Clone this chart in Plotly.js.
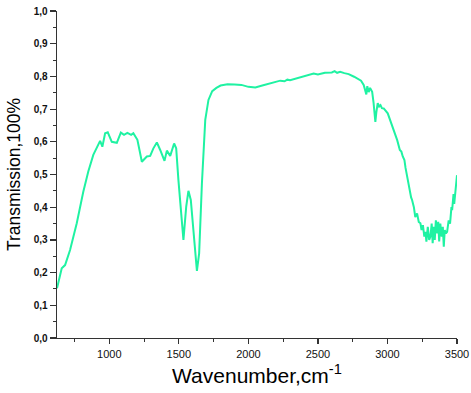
<!DOCTYPE html>
<html>
<head>
<meta charset="utf-8">
<script src="https://cdn.plot.ly/plotly-3.0.1.min.js"></script>
<style>html,body{margin:0;padding:0;background:#fff;}#chart{width:471px;height:393px;}</style>
</head>
<body>
<div id="chart"></div>
<script>
const wavenumber = [624,658,682,718,766,813,849,885,934,950,970,989,1018,1054,1083,1106,1130,1157,1173,1202,1217,1234,1270,1294,1317,1342,1366,1397,1414,1438,1466,1481,1497,1517,1533,1553,1569,1586,1605,1630,1646,1666,1690,1713,1740,1770,1800,1850,1900,1950,2000,2050,2100,2150,2200,2229,2260,2280,2300,2350,2400,2450,2469,2500,2550,2600,2620,2638,2660,2690,2721,2760,2793,2810,2829,2840,2848,2855,2865,2875,2890,2900,2908,2913,2920,2930,2940,2950,2960,2973,3002,3020,3045,3070,3089,3100,3110,3122,3130,3141,3150,3160,3170,3177,3190,3200,3213,3225,3237,3245,3255,3265,3273,3280,3290,3300,3309,3318,3325,3333,3340,3348,3358,3365,3372,3380,3390,3398,3405,3412,3420,3429,3440,3450,3460,3465,3475,3480,3489,3495,3500];
const transmission = [0.152,0.213,0.223,0.269,0.351,0.447,0.509,0.560,0.603,0.585,0.626,0.629,0.600,0.597,0.628,0.621,0.627,0.621,0.626,0.606,0.575,0.539,0.555,0.557,0.580,0.598,0.575,0.542,0.573,0.557,0.595,0.580,0.483,0.391,0.300,0.402,0.450,0.422,0.320,0.205,0.259,0.473,0.667,0.728,0.755,0.765,0.772,0.776,0.775,0.774,0.768,0.766,0.772,0.778,0.783,0.787,0.785,0.790,0.788,0.794,0.800,0.805,0.809,0.806,0.811,0.812,0.816,0.811,0.814,0.810,0.807,0.799,0.791,0.787,0.774,0.760,0.745,0.770,0.752,0.765,0.753,0.720,0.690,0.661,0.690,0.718,0.708,0.712,0.703,0.702,0.687,0.665,0.636,0.605,0.575,0.570,0.555,0.544,0.520,0.493,0.480,0.445,0.430,0.422,0.400,0.370,0.381,0.355,0.351,0.330,0.345,0.310,0.325,0.295,0.340,0.300,0.310,0.350,0.290,0.340,0.300,0.360,0.320,0.355,0.295,0.350,0.310,0.340,0.279,0.330,0.320,0.325,0.360,0.350,0.400,0.391,0.440,0.410,0.453,0.480,0.498];
const yTickVals = [0,0.1,0.2,0.3,0.4,0.5,0.6,0.7,0.8,0.9,1.0];
const yTickText = ["0,0","0,1","0,2","0,3","0,4","0,5","0,6","0,7","0,8","0,9","1,0"];
const xTickVals = [1000,1500,2000,2500,3000,3500];

const trace = {
  x: wavenumber, y: transmission, type: 'scatter', mode: 'lines',
  line: {color: '#1FF2A2', width: 2}, hoverinfo: 'skip'
};
const layout = {
  width: 471, height: 393,
  margin: {l: 57, r: 14, t: 11, b: 55},
  paper_bgcolor: '#fff', plot_bgcolor: '#fff',
  showlegend: false,
  font: {family: 'Arial, "Liberation Sans", sans-serif', color: '#000'},
  xaxis: {
    range: [624, 3500], showgrid: false, zeroline: false,
    showline: true, linecolor: '#333', linewidth: 1.3,
    ticks: 'outside', ticklen: 5, tickwidth: 1.2, tickcolor: '#333',
    tickvals: xTickVals, ticktext: xTickVals.map(String),
    tickfont: {size: 11, color: '#111'},
    minor: {ticks: 'outside', ticklen: 3, tickwidth: 1, tickcolor: '#333', dtick: 250, tick0: 0},
    title: {text: 'Wavenumber,cm<sup>-1</sup>', font: {size: 21, color: '#000'}, standoff: 9}
  },
  yaxis: {
    range: [0, 1.0], showgrid: false, zeroline: false,
    showline: true, linecolor: '#333', linewidth: 1.3,
    ticks: 'outside', ticklen: 6, tickwidth: 1.2, tickcolor: '#333',
    tickvals: yTickVals, ticktext: yTickText,
    tickfont: {size: 10, color: '#111', weight: 'bold'},
    minor: {ticks: 'outside', ticklen: 3, tickwidth: 1, tickcolor: '#333', dtick: 0.05, tick0: 0},
    title: {text: 'Transmission,100%', font: {size: 17.5, color: '#000'}, standoff: 8}
  }
};
Plotly.newPlot('chart', [trace], layout, {displayModeBar: false, staticPlot: true});
</script>
</body>
</html>
